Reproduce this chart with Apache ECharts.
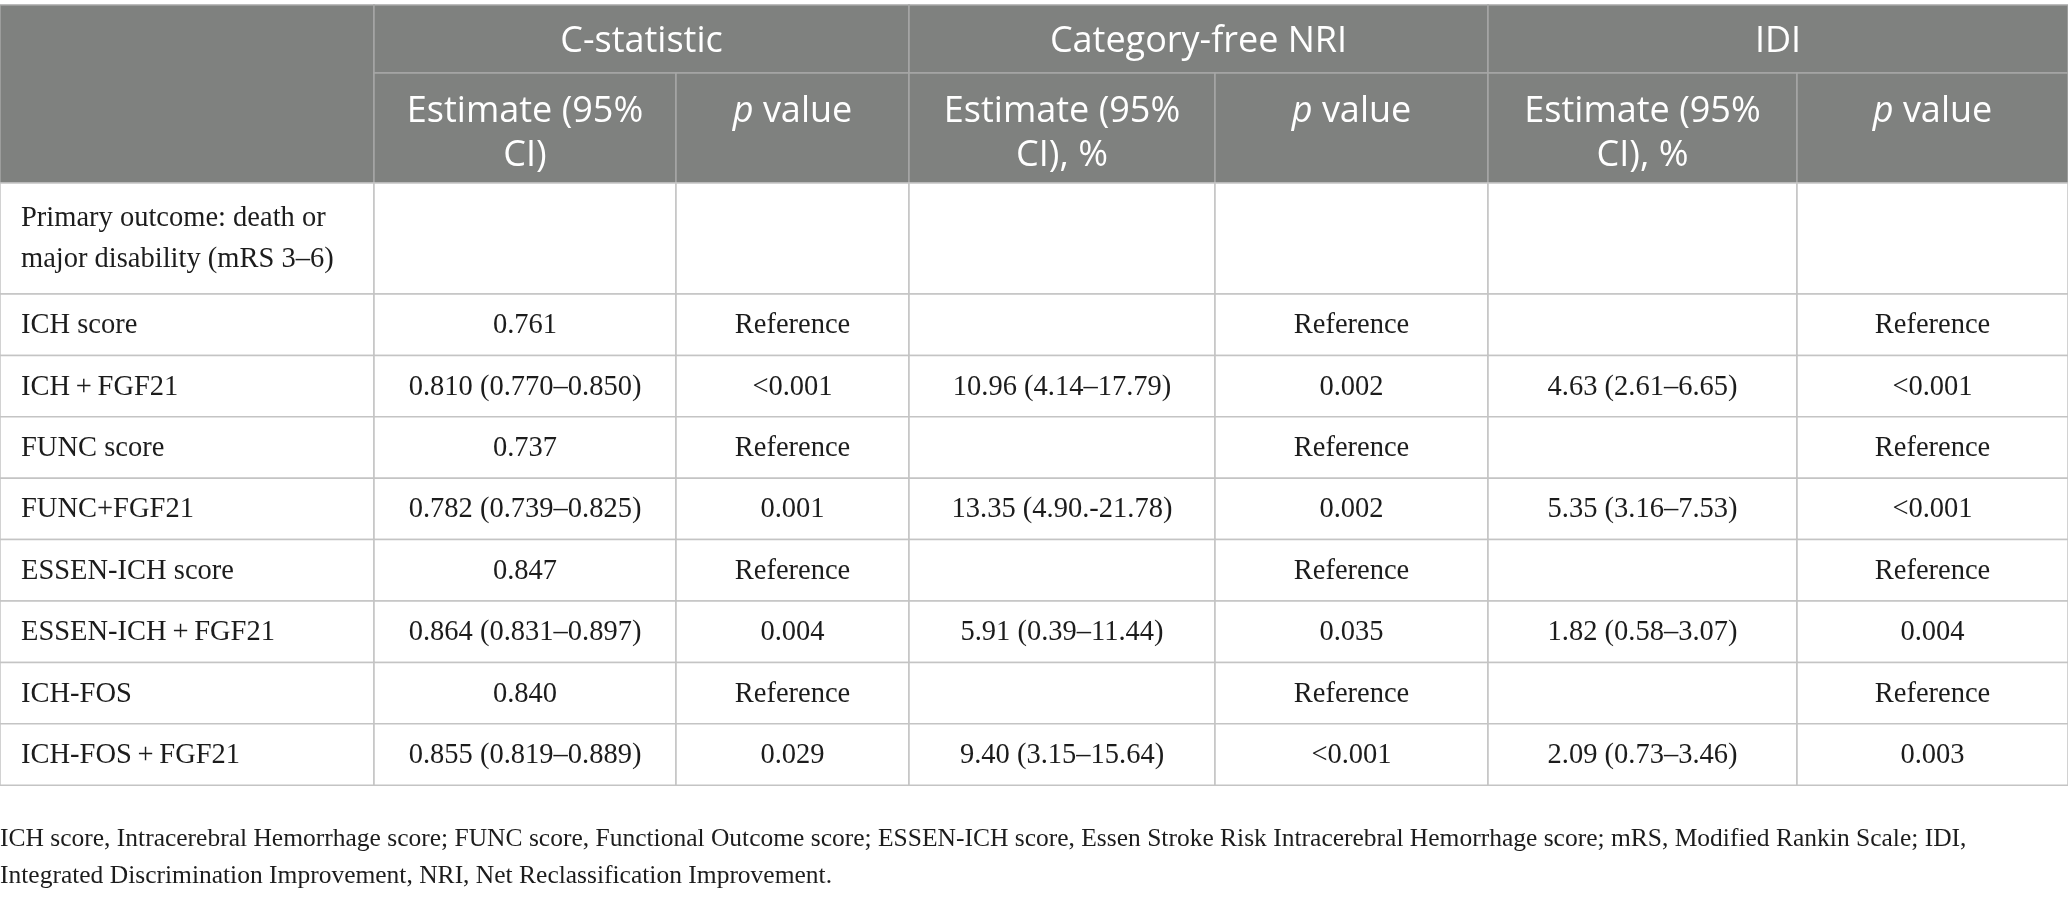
<!DOCTYPE html>
<html>
<head>
<meta charset="utf-8">
<title>Model discrimination table</title>
<script src="https://cdn.jsdelivr.net/npm/echarts@6/dist/echarts.min.js"></script>
<style>
  html, body { margin: 0; padding: 0; background: #fff; }
  #main { width: 2068px; height: 900px; }
</style>
</head>
<body>
<div id="main"></div>
<script>
// ---- table content ----
var groupHeads = ['C-statistic', 'Category-free NRI', 'IDI'];
var subHeads = ['Estimate (95%\nCI)', '{i|p} value', 'Estimate (95%\nCI), %', '{i|p} value', 'Estimate (95%\nCI), %', '{i|p} value'];
var models = [
  'Primary outcome: death or\nmajor disability (mRS 3\u20136)',
  'ICH score',
  'ICH\u2009+\u2009FGF21',
  'FUNC score',
  'FUNC+FGF21',
  'ESSEN-ICH score',
  'ESSEN-ICH\u2009+\u2009FGF21',
  'ICH-FOS',
  'ICH-FOS\u2009+\u2009FGF21'
];
var cEst = ['', '0.761', '0.810 (0.770\u20130.850)', '0.737', '0.782 (0.739\u20130.825)', '0.847', '0.864 (0.831\u20130.897)', '0.840', '0.855 (0.819\u20130.889)'];
var cP = ['', 'Reference', '<0.001', 'Reference', '0.001', 'Reference', '0.004', 'Reference', '0.029'];
var nriEst = ['', '', '10.96 (4.14\u201317.79)', '', '13.35 (4.90.-21.78)', '', '5.91 (0.39\u201311.44)', '', '9.40 (3.15\u201315.64)'];
var nriP = ['', 'Reference', '0.002', 'Reference', '0.002', 'Reference', '0.035', 'Reference', '<0.001'];
var idiEst = ['', '', '4.63 (2.61\u20136.65)', '', '5.35 (3.16\u20137.53)', '', '1.82 (0.58\u20133.07)', '', '2.09 (0.73\u20133.46)'];
var idiP = ['', 'Reference', '<0.001', 'Reference', '<0.001', 'Reference', '0.004', 'Reference', '0.003'];
var footnotes = [
  'ICH score, Intracerebral Hemorrhage score; FUNC score, Functional Outcome score; ESSEN-ICH score, Essen Stroke Risk Intracerebral Hemorrhage score; mRS, Modified Rankin Scale; IDI,',
  'Integrated Discrimination Improvement, NRI, Net Reclassification Improvement.'
];

// ---- layout (axis units = page pixels) ----
var colEdges = [0, 374, 676, 909, 1215, 1488, 1797, 2068];
var headEdges = [5, 73, 183];
var firstRowH = 111, rowH = 61.4;
var rowEdges = [headEdges[2], headEdges[2] + firstRowH];
for (var k = 1; k < models.length; k++) rowEdges.push(rowEdges[1] + rowH * k);

var HEAD_BG = '#7f817f', HEAD_LINE = '#a6a7a6', BODY_LINE = '#c4c4c4';
var HEAD_FONT = '"Open Sans", sans-serif', BODY_FONT = '"Liberation Serif", serif';
var HEAD_SIZE = 36, BODY_SIZE = 28.5, NOTE_SIZE = 25.5;

// build cells from the content arrays
var cells = [];
function addCell(c0, c1, y0, y1, text, kind) {
  cells.push({ value: [colEdges[c0], colEdges[c1], y0, y1], text: text, kind: kind });
}
addCell(0, 1, headEdges[0], headEdges[2], '', 'head');
for (var g = 0; g < groupHeads.length; g++) {
  addCell(1 + g * 2, 3 + g * 2, headEdges[0], headEdges[1], groupHeads[g], 'head');
}
for (var s = 0; s < subHeads.length; s++) {
  addCell(1 + s, 2 + s, headEdges[1], headEdges[2], subHeads[s], 'sub');
}
var bodyCols = [models, cEst, cP, nriEst, nriP, idiEst, idiP];
for (var r = 0; r < models.length; r++) {
  for (var c = 0; c < bodyCols.length; c++) {
    addCell(c, c + 1, rowEdges[r], rowEdges[r + 1], bodyCols[c][r], c === 0 ? 'label' : 'body');
  }
}

var chart = echarts.init(document.getElementById('main'));

function renderCell(params, api) {
  var cell = cells[params.dataIndex];
  var p0 = api.coord([api.value(0), api.value(2)]);
  var p1 = api.coord([api.value(1), api.value(3)]);
  var w = p1[0] - p0[0], h = p1[1] - p0[1];
  var isHead = cell.kind === 'head' || cell.kind === 'sub';
  var textStyle;
  if (isHead) {
    textStyle = {
      text: cell.text,
      x: p0[0] + w / 2,
      y: cell.kind === 'sub' ? p0[1] + 17 : p0[1] + h / 2 + 3,
      align: 'center',
      verticalAlign: cell.kind === 'sub' ? 'top' : 'middle',
      fontFamily: HEAD_FONT, fontSize: HEAD_SIZE, lineHeight: 44,
      fill: '#ffffff',
      rich: { i: { fontFamily: HEAD_FONT, fontSize: HEAD_SIZE, fontStyle: 'italic', fill: '#ffffff', lineHeight: 44 } }
    };
  } else {
    textStyle = {
      text: cell.text,
      x: cell.kind === 'label' ? p0[0] + 21 : p0[0] + w / 2,
      y: p0[1] + h / 2 + 1,
      align: cell.kind === 'label' ? 'left' : 'center',
      verticalAlign: 'middle',
      fontFamily: BODY_FONT, fontSize: BODY_SIZE, lineHeight: 41,
      fill: '#1c1c1c'
    };
  }
  return {
    type: 'group',
    children: [{
      type: 'rect',
      shape: { x: p0[0], y: p0[1], width: w, height: h },
      style: { fill: isHead ? HEAD_BG : '#ffffff', stroke: isHead ? HEAD_LINE : BODY_LINE, lineWidth: 1.5 }
    }, {
      type: 'text',
      style: textStyle
    }]
  };
}

var option = {
  animation: false,
  title: {
    text: footnotes.join('\n'),
    left: 0,
    top: 821,
    padding: 0,
    textStyle: { fontFamily: BODY_FONT, fontSize: NOTE_SIZE, fontWeight: 'normal', color: '#1c1c1c', lineHeight: 37 }
  },
  grid: { left: 0, right: 0, top: 0, bottom: 0 },
  xAxis: { type: 'value', min: 0, max: 2068, show: false },
  yAxis: { type: 'value', min: 0, max: 900, inverse: true, show: false },
  series: [{
    type: 'custom',
    renderItem: renderCell,
    encode: { x: [0, 1], y: [2, 3] },
    clip: false,
    silent: true,
    data: cells.map(function (d) { return d.value; })
  }]
};
chart.setOption(option);
window.onresize = function () { chart.resize(); };
</script>
</body>
</html>
